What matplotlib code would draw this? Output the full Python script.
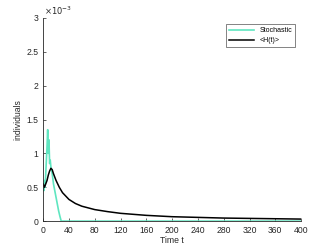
import matplotlib
matplotlib.use("Agg")
import matplotlib.pyplot as plt

# stochastic realisation, values in individuals
t_stoch = [0, 1, 2, 3, 4, 5, 6, 7, 8, 9, 10, 11, 12, 14, 16, 18, 20, 22, 24, 26, 28, 400]
h_stoch = [0.55, 0.45, 0.6, 0.5, 0.7, 0.9, 1.1, 1.35, 1.0, 1.2, 0.85, 0.9, 0.8, 0.7,
           0.55, 0.45, 0.35, 0.25, 0.15, 0.07, 0.0, 0.0]
h_stoch = [v * 1e-3 for v in h_stoch]

# mean <H(t)>
t_mean = [0, 2, 4, 6, 8, 10, 12, 14, 16, 20, 25, 30, 40, 50, 60, 80, 100, 120, 160, 200,
          240, 280, 320, 360, 400]
h_mean = [0.55, 0.5, 0.55, 0.6, 0.68, 0.74, 0.78, 0.76, 0.7, 0.6, 0.5, 0.42, 0.32, 0.26, 0.22,
          0.17, 0.14, 0.115, 0.085, 0.065, 0.055, 0.045, 0.04, 0.035, 0.03]
h_mean = [v * 1e-3 for v in h_mean]

xticks = list(range(0, 401, 40))
yticks = [0, 0.5e-3, 1e-3, 1.5e-3, 2e-3, 2.5e-3, 3e-3]
ytick_labels = ['0', '0.5', '1', '1.5', '2', '2.5', '3']

grey = '#262626'
plt.rcParams['font.family'] = ['Liberation Sans', 'DejaVu Sans']
fig = plt.figure(figsize=(3.32, 2.49), dpi=100)
ax = fig.add_axes([0.13, 0.112, 0.777, 0.816])

ax.plot(t_stoch, h_stoch, color='#5fe6c0', lw=1.2, label='Stochastic')
ax.plot(t_mean, h_mean, color='black', lw=1.1, label='<H(t)>')

ax.set_xlim(0, 400)
ax.set_ylim(0, 3e-3)
ax.set_xticks(xticks)
ax.set_yticks(yticks)
ax.set_yticklabels(ytick_labels)
ax.text(0.005, 1.003, r'$\times10^{-3}$', transform=ax.transAxes, fontsize=6,
        color=grey, ha='left', va='bottom')
ax.tick_params(direction='in', labelsize=6.2, length=2, width=0.5, colors=grey)
for s in ['top', 'right']:
    ax.spines[s].set_visible(False)
for s in ['left', 'bottom']:
    ax.spines[s].set_linewidth(0.6)
    ax.spines[s].set_color(grey)

ax.set_xlabel('Time t', fontsize=6.2, color=grey, labelpad=1)
ax.set_ylabel('individuals', fontsize=6.2, color=grey, labelpad=3)

leg = ax.legend(loc='upper right', fontsize=5, frameon=True, fancybox=False,
                edgecolor=grey, handlelength=3.6, borderpad=0.4, labelspacing=0.4,
                bbox_to_anchor=(0.99, 0.985))
leg.get_frame().set_linewidth(0.5)

fig.savefig('out.png', dpi=100)
